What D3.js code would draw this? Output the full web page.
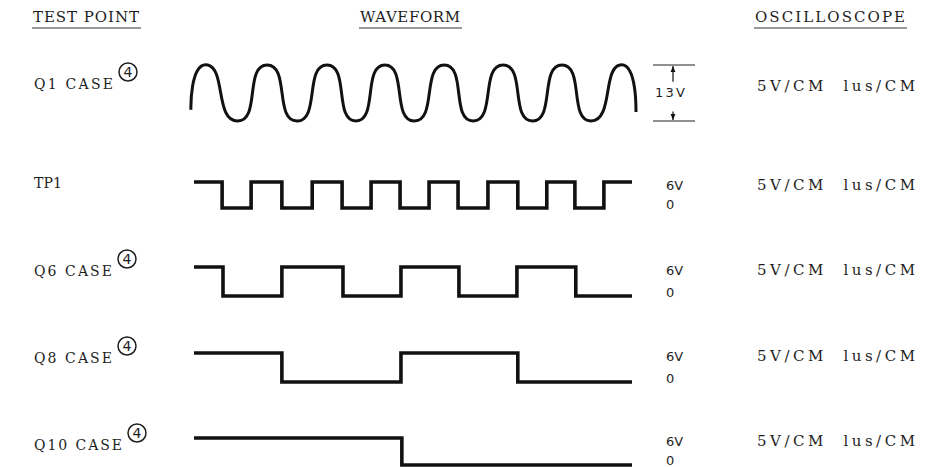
<!DOCTYPE html>
<html>
<head>
<meta charset="utf-8">
<script src="https://cdn.jsdelivr.net/npm/d3@7.9.0/dist/d3.min.js"></script>
<style>
  body { margin: 0; background: #fff; }
  svg { display: block; }
  .lbl { font-family: "DejaVu Serif", serif; font-size: 15px; fill: #1e1e1e; white-space: pre; }
  .lbl.tp { font-size: 14px; }
  .num { font-family: "DejaVu Sans", sans-serif; font-size: 13px; fill: #1e1e1e; }
</style>
</head>
<body>
<svg id="chart" width="931" height="467"></svg>
<script>
// column headers
const headers = ['TEST POINT', 'WAVEFORM', 'OSCILLOSCOPE'];
// test points, top to bottom
const testPoints = ['Q1 CASE', 'TP1', 'Q6 CASE', 'Q8 CASE', 'Q10 CASE'];
const hasNote = [true, false, true, true, true];
const scopeSettings = ['5V/CM  lus/CM', '5V/CM  lus/CM', '5V/CM  lus/CM', '5V/CM  lus/CM', '5V/CM  lus/CM'];

// Q1 case: sine, 13V peak to peak. time in us (1us/CM, 10 CM)
// peaks and troughs
const q1Wave = [
  [0.02, -3.9], [0.40, 6.5], [1.07, -6.5], [1.73, 6.5], [2.40, -6.5], [3.07, 6.5],
  [3.72, -6.5], [4.37, 6.5], [5.03, -6.5], [5.70, 6.5], [6.35, -6.5], [7.02, 6.5],
  [7.68, -6.5], [8.34, 6.5], [8.99, -6.5], [9.64, 6.5], [10.0, -4.4]
];
// square waves: [time, volts], level holds until next point
const tp1Wave = [
  [0.09, 6], [0.72, 0], [1.37, 6], [2.06, 0], [2.74, 6], [3.41, 0], [4.06, 6], [4.71, 0],
  [5.36, 6], [6.01, 0], [6.68, 6], [7.35, 0], [8.00, 6], [8.63, 0], [9.28, 6], [9.91, 6]
];
const q6Wave = [[0.09, 6], [0.74, 0], [2.06, 6], [3.43, 0], [4.73, 6], [6.03, 0], [7.33, 6], [8.65, 0], [9.91, 0]];
const q8Wave = [[0.09, 6], [2.06, 0], [4.73, 6], [7.35, 0], [9.91, 0]];
const q10Wave = [[0.09, 6], [4.75, 0], [9.91, 0]];
const levelLabels = ['6V', '0'];
const ppLabel = '13V';

const svg = d3.select('#chart');

// --- layout
const x = d3.scaleLinear().domain([0, 10]).range([190, 636]);
// one vertical scale per row (pixel rows of the high / low trace)
const yQ1 = d3.scaleLinear().domain([-6.5, 6.5]).range([121, 65]);
const squareRows = [[208, 182], [296, 267], [382, 353], [465, 438]];
const ySq = squareRows.map(r => d3.scaleLinear().domain([0, 6]).range(r));
const squareWaves = [tp1Wave, q6Wave, q8Wave, q10Wave];

// --- headers
const headX = [33, 360, 755];
const headW = [106, 100, 150];
headers.forEach((h, i) => {
  svg.append('text').attr('class', 'lbl')
    .attr('x', headX[i]).attr('y', 22)
    .attr('textLength', headW[i]).attr('lengthAdjust', 'spacing')
    .text(h);
  svg.append('line')
    .attr('x1', headX[i] - 1).attr('x2', headX[i] + headW[i] + 2)
    .attr('y1', 28).attr('y2', 28)
    .attr('stroke', '#333').attr('stroke-width', 1);
});

// --- left labels
const labelBase = [89, 188, 276, 363, 450];
const labelW = [79, 28, 78, 78, 88];
testPoints.forEach((t, i) => {
  svg.append('text').attr('class', 'lbl tp')
    .attr('x', 34).attr('y', labelBase[i])
    .attr('textLength', labelW[i]).attr('lengthAdjust', 'spacing')
    .text(t);
  if (hasNote[i]) {
    const cx = 34 + labelW[i] + 15, cy = labelBase[i] - 17;
    svg.append('circle').attr('cx', cx).attr('cy', cy).attr('r', 9)
      .attr('fill', 'none').attr('stroke', '#1e1e1e').attr('stroke-width', 1.5);
    svg.append('text').attr('class', 'num')
      .attr('x', cx).attr('y', cy + 5)
      .attr('text-anchor', 'middle').style('font-size', '14px')
      .text('4');
  }
});

// --- waveforms
// negative tension widens the crests and steepens the flanks, like the scope trace
const sineLine = d3.line().x(d => x(d[0])).y(d => yQ1(d[1])).curve(d3.curveCardinal.tension(-1.3));
svg.append('path').attr('d', sineLine(q1Wave))
  .attr('fill', 'none').attr('stroke', '#111').attr('stroke-width', 3);

squareWaves.forEach((w, i) => {
  const line = d3.line().x(d => x(d[0])).y(d => ySq[i](d[1])).curve(d3.curveStepAfter);
  svg.append('path').attr('d', line(w))
    .attr('fill', 'none').attr('stroke', '#111').attr('stroke-width', 3.6)
    .attr('stroke-linejoin', 'miter');
});

// --- 13V bracket
const defs = svg.append('defs');
defs.append('marker').attr('id', 'arr')
  .attr('viewBox', '0 0 10 10').attr('refX', 10).attr('refY', 5)
  .attr('markerWidth', 5).attr('markerHeight', 7).attr('orient', 'auto')
  .append('path').attr('d', 'M0,1 L10,5 L0,9 Z').attr('fill', '#111');

[6.5, -6.5].forEach(v => {
  svg.append('line').attr('x1', 653).attr('x2', 695)
    .attr('y1', yQ1(v)).attr('y2', yQ1(v))
    .attr('stroke', '#222').attr('stroke-width', 1);
});
svg.append('line').attr('x1', 673).attr('x2', 673)
  .attr('y1', yQ1(2.6)).attr('y2', yQ1(6.5) + 1)
  .attr('stroke', '#111').attr('stroke-width', 1.2).attr('marker-end', 'url(#arr)');
svg.append('line').attr('x1', 673).attr('x2', 673)
  .attr('y1', yQ1(-4.3)).attr('y2', yQ1(-6.5) - 1)
  .attr('stroke', '#111').attr('stroke-width', 1.2).attr('marker-end', 'url(#arr)');
svg.append('text').attr('class', 'num')
  .attr('x', 655).attr('y', 97)
  .attr('textLength', 30).attr('lengthAdjust', 'spacing')
  .text(ppLabel);

// --- 6V / 0 labels
ySq.forEach(y => {
  svg.append('text').attr('class', 'num')
    .attr('x', 666).attr('y', y(6) + 8)
    .text(levelLabels[0]);
  svg.append('text').attr('class', 'num')
    .attr('x', 666).attr('y', Math.min(y(0) + 1, 465))
    .text(levelLabels[1]);
});

// --- oscilloscope settings
const scopeBase = [91].concat(ySq.map(y => y(6) + 8));
scopeSettings.forEach((s, i) => {
  svg.append('text').attr('class', 'lbl')
    .attr('x', 757).attr('y', scopeBase[i])
    .attr('textLength', 158).attr('lengthAdjust', 'spacing')
    .text(s);
});
</script>
</body>
</html>
